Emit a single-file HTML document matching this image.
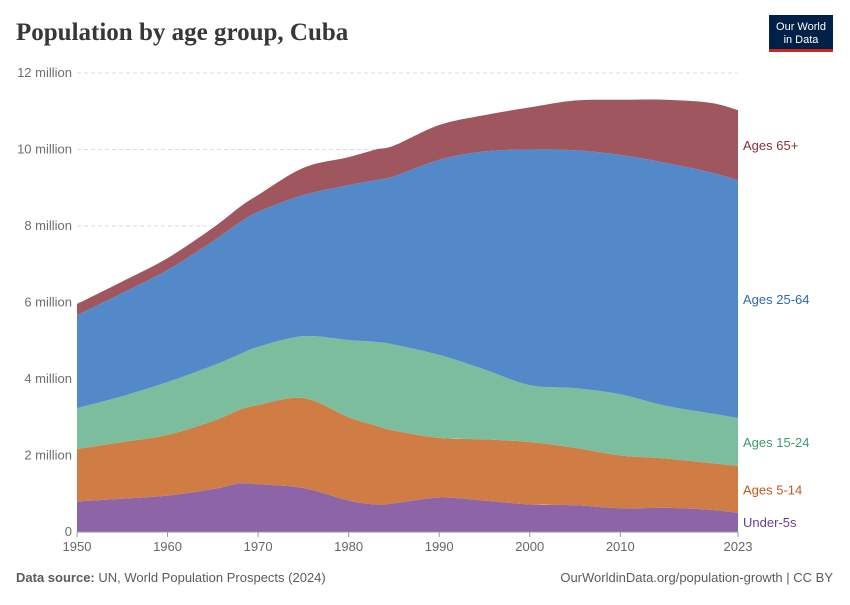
<!DOCTYPE html>
<html><head><meta charset="utf-8"><style>
body{margin:0;background:#fff;font-family:"Liberation Sans",sans-serif}
</style></head><body>
<svg id="chart" width="850" height="600" xmlns="http://www.w3.org/2000/svg" font-family="Liberation Sans, sans-serif">
<text x="16" y="40" style="font-family:'Liberation Serif',serif;font-weight:bold" font-size="25" fill="#373737">Population by age group, Cuba</text>
<g>
<rect x="769" y="15" width="64" height="37" fill="#002147"/>
<rect x="769" y="49" width="64" height="3" fill="#ce261e"/>
<text x="801" y="30" font-size="11" fill="#fff" text-anchor="middle">Our World</text>
<text x="801" y="43" font-size="11" fill="#fff" text-anchor="middle">in Data</text>
</g>
<g id="grid"></g>
<g id="areas"></g>
<g id="xaxis"></g>
<g id="labels"></g>
<text x="16" y="582" font-size="13" fill="#5b5b5b"><tspan font-weight="bold">Data source:</tspan> UN, World Population Prospects (2024)</text>
<text x="833" y="582" font-size="13" fill="#5b5b5b" text-anchor="end">OurWorldinData.org/population-growth | CC BY</text>
</svg>
<script>
const years=[1950,1955,1960,1965,1968,1970,1975,1980,1983,1985,1990,1995,2000,2005,2010,2015,2020,2023];
const under5=[.80,.87,.95,1.12,1.27,1.25,1.15,.82,.72,.75,.9,.82,.72,.70,.62,.63,.58,.50];
const ages5to14=[1.37,1.48,1.59,1.78,1.93,2.07,2.35,2.18,2.06,1.90,1.56,1.60,1.63,1.50,1.38,1.29,1.22,1.23];
const ages15to24=[1.07,1.20,1.38,1.45,1.45,1.52,1.62,2.02,2.19,2.25,2.17,1.83,1.49,1.56,1.60,1.38,1.30,1.25];
const ages25to64=[2.43,2.70,2.93,3.25,3.45,3.53,3.69,4.05,4.23,4.40,5.10,5.70,6.16,6.22,6.26,6.35,6.30,6.22];
const ages65plus=[.29,.30,.31,.35,.40,.44,.71,.73,.80,.80,.91,.95,1.10,1.30,1.44,1.65,1.82,1.83];
const yTicks=[0,2,4,6,8,10,12];
const yTickLabels=["0","2 million","4 million","6 million","8 million","10 million","12 million"];
const xTicks=[1950,1960,1970,1980,1990,2000,2010,2023];
const seriesNames=["Under-5s","Ages 5-14","Ages 15-24","Ages 25-64","Ages 65+"];
const series=[under5,ages5to14,ages15to24,ages25to64,ages65plus];
const fills=["#8c64a7","#cf7c45","#7bbd9d","#5489c9","#a0565f"];
const labelColors=["#6b3d8f","#c05a1e","#3f9a70","#2c6ab2","#883039"];
const NS="http://www.w3.org/2000/svg";
const X=y=>77+(y-1950)/(2023-1950)*(738-77);
const Y=v=>532-v/12*459;
function mk(t,a,p){const e=document.createElementNS(NS,t);for(const k in a)e.setAttribute(k,a[k]);p.appendChild(e);return e;}
function smooth(pts){
  let d='';
  for(let i=0;i<pts.length-1;i++){
    const p0=pts[Math.max(0,i-1)],p1=pts[i],p2=pts[i+1],p3=pts[Math.min(pts.length-1,i+2)];
    const c1=[p1[0]+(p2[0]-p0[0])/6,p1[1]+(p2[1]-p0[1])/6];
    const c2=[p2[0]-(p3[0]-p1[0])/6,p2[1]-(p3[1]-p1[1])/6];
    d+='C'+c1.join(',')+' '+c2.join(',')+' '+p2.join(',');
  }
  return d;
}
const grid=document.getElementById('grid');
yTicks.forEach((t,i)=>{
  if(t>0){const l=mk('line',{x1:77,x2:738,y1:Y(t),y2:Y(t),stroke:'#ddd','stroke-dasharray':'4,3'},grid);
  
  }
  const tx=mk('text',{x:72,y:Y(t)+4,'font-size':13,fill:'#6e6e6e','text-anchor':'end'},grid);
  tx.textContent=yTickLabels[i];
  
  
});
const areas=document.getElementById('areas');
let base=years.map(()=>0);
series.forEach((s,si)=>{
  const top=base.map((b,i)=>b+s[i]);
  const tp=years.map((y,i)=>[X(y),Y(top[i])]);
  const bp=years.map((y,i)=>[X(y),Y(base[i])]).reverse();
  let d='M'+tp[0].join(',')+smooth(tp)+'L'+bp[0].join(',')+smooth(bp)+'Z';
  const p=mk('path',{d:d,fill:fills[si]},areas);
  
  
  const mid=(base[base.length-1]+top[top.length-1])/2;
  const lab=mk('text',{x:743,y:0,'font-size':13,fill:labelColors[si]},document.getElementById('labels'));
  lab.textContent=seriesNames[si];
  
  
  lab._mid=mid;
  base=top;
});
const labs=[...document.getElementById('labels').children];
let prev=1e9;
labs.forEach(l=>{let y=Y(l._mid)+5;if(y>prev-28)y=prev-28;if(l.textContent==="Under-5s")y=Math.max(y,527);y=Math.min(y,527);l.setAttribute('y',y);prev=y;});
const xa=document.getElementById('xaxis');
mk('line',{x1:77,x2:738,y1:532,y2:532,stroke:'#999'},xa);
xTicks.forEach(t=>{
  const l=mk('line',{x1:X(t),x2:X(t),y1:532,y2:537,stroke:'#999'},xa);
  
  
  const tx=mk('text',{x:X(t),y:551,'font-size':13,fill:'#666','text-anchor':'middle'},xa);
  tx.textContent=t;
  
  
});
</script>
</body></html>
